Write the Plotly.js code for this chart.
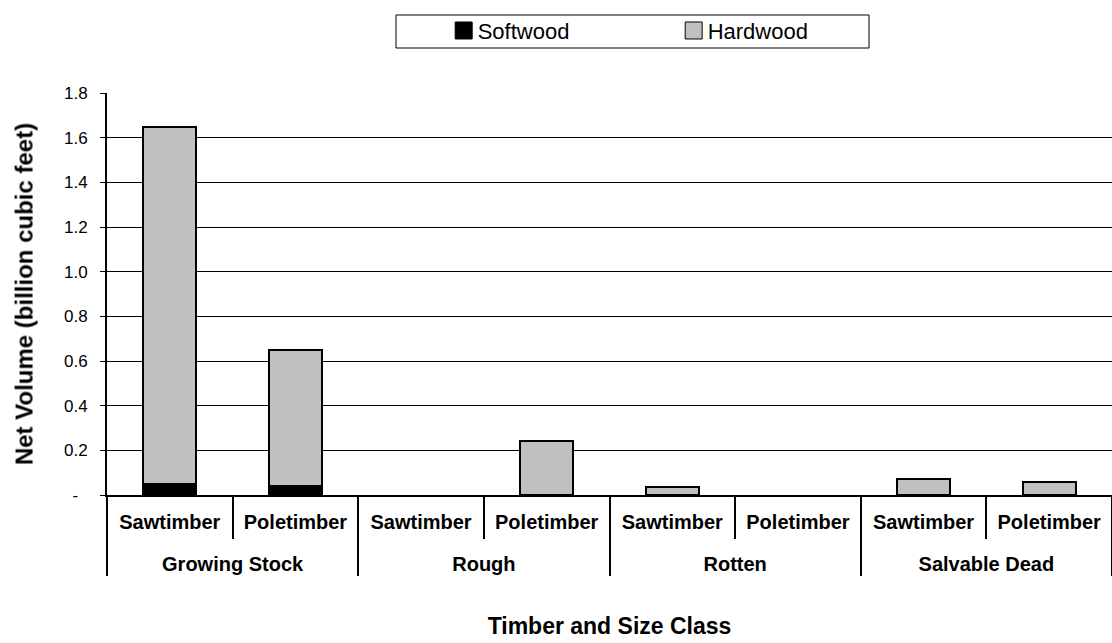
<!DOCTYPE html>
<html>
<head>
<meta charset="utf-8">
<script src="https://cdn.plot.ly/plotly-3.0.1.min.js"></script>
<style>
  html, body { margin: 0; padding: 0; background: #fff; }
  #chart { width: 1112px; height: 643px; }
</style>
</head>
<body>
<div id="chart"></div>
<script>
// Net volume by timber class and size class (billion cubic feet)
const timberClasses = ['Growing Stock', 'Growing Stock', 'Rough', 'Rough',
                       'Rotten', 'Rotten', 'Salvable Dead', 'Salvable Dead'];
const sizeClasses = ['Sawtimber', 'Poletimber', 'Sawtimber', 'Poletimber',
                     'Sawtimber', 'Poletimber', 'Sawtimber', 'Poletimber'];
const softwood = [0.05, 0.04, 0, 0, 0, 0, 0, 0];
const hardwood = [1.60, 0.61, 0, 0.24, 0.035, 0, 0.07, 0.06];

const yTickVals = [0, 0.2, 0.4, 0.6, 0.8, 1.0, 1.2, 1.4, 1.6, 1.8];
const yTickText = ['-\u00a0\u00a0', '0.2', '0.4', '0.6', '0.8', '1.0', '1.2', '1.4', '1.6', '1.8'];

const FONT = '"Liberation Sans", Arial, sans-serif';

// size-class labels get an empty second line so the timber-class row sits lower
const sizeRow = sizeClasses.map(s => s + '<br>\u00a0');
const xCats = [timberClasses, sizeRow];

// empty segments get no outline
const outline = vals => vals.map(v => (v > 0 ? 2 : 0));

const traces = [
  {
    type: 'bar', name: 'Softwood',
    x: xCats, y: softwood,
    marker: { color: '#000000', line: { color: '#000000', width: outline(softwood) } }
  },
  {
    type: 'bar', name: 'Hardwood',
    x: xCats, y: hardwood,
    marker: { color: '#c0c0c0', line: { color: '#000000', width: outline(hardwood) } }
  }
];

const layout = {
  width: 1112, height: 643,
  paper_bgcolor: '#ffffff', plot_bgcolor: '#ffffff',
  font: { family: FONT, color: '#000000' },
  margin: { l: 107, r: 0, t: 93, b: 148 },
  barmode: 'stack',
  bargap: 0.58,
  showlegend: true,
  legend: {
    orientation: 'h',
    x: 0.335, xanchor: 'left', xref: 'paper',
    y: 1.155, yanchor: 'middle', yref: 'paper',
    font: { family: FONT, size: 22, color: '#000' },
    bgcolor: 'rgba(0,0,0,0)',
    entrywidth: 185,
    traceorder: 'normal'
  },
  xaxis: {
    type: 'multicategory',
    showline: true, linecolor: '#000', linewidth: 2,
    ticks: 'outside', tickson: 'boundaries', ticklen: 42, tickwidth: 2, tickcolor: '#000',
    ticklabelstandoff: 8,
    showdividers: true, dividercolor: '#000', dividerwidth: 2,
    tickfont: { family: FONT, size: 20, weight: 700, color: '#000' },
    showgrid: false, zeroline: false,
    title: { text: 'Timber and Size Class', font: { family: FONT, size: 23, weight: 700 }, standoff: 44 }
  },
  yaxis: {
    range: [0, 1.8],
    tickvals: yTickVals, ticktext: yTickText,
    showline: true, linecolor: '#000', linewidth: 2,
    ticks: 'outside', ticklen: 5, tickwidth: 1, tickcolor: '#000',
    ticklabelstandoff: 9,
    showgrid: true, gridcolor: '#000', gridwidth: 1,
    zeroline: false,
    tickfont: { family: FONT, size: 17, color: '#000' },
    title: { text: 'Net Volume (billion cubic feet)', font: { family: FONT, size: 24, weight: 700 }, standoff: 24 }
  },
  shapes: [
    { type: 'rect', xref: 'paper', yref: 'paper',
      x0: (396 - 107) / 1005, x1: (869 - 107) / 1005,
      y0: (643 - 148 - 48) / 402, y1: (643 - 148 - 15) / 402,
      line: { color: '#000', width: 1 }, fillcolor: 'rgba(0,0,0,0)', layer: 'above' }
  ]
};

Plotly.newPlot('chart', traces, layout, { displayModeBar: false, staticPlot: true }).then(gd => {
  const svg = gd.querySelector('svg.main-svg');
  const ns = 'http://www.w3.org/2000/svg';

  // soften the vertical axis title
  let defs = svg.querySelector('defs');
  if (!defs) { defs = document.createElementNS(ns, 'defs'); svg.prepend(defs); }
  const filter = document.createElementNS(ns, 'filter');
  filter.setAttribute('id', 'ytitle-soft');
  const blur = document.createElementNS(ns, 'feGaussianBlur');
  blur.setAttribute('stdDeviation', '0.7');
  filter.appendChild(blur);
  defs.appendChild(filter);
  gd.querySelectorAll('.ytitle').forEach(t => t.setAttribute('filter', 'url(#ytitle-soft)'));

  // larger legend swatches, with the names set closer to them
  gd.querySelectorAll('.legend .legendpoints path').forEach(p => {
    p.setAttribute('d', 'M8.5,8.5H-8.5V-8.5H8.5Z');
    p.style.strokeWidth = '1px';
  });
  gd.querySelectorAll('.legend .legendtext').forEach(t => t.setAttribute('x', '34'));
});
</script>
</body>
</html>
